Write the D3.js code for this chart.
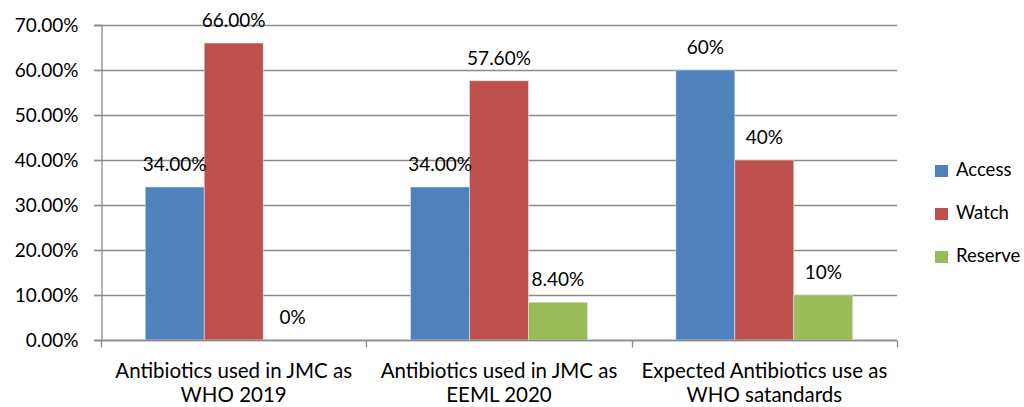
<!DOCTYPE html>
<html>
<head>
<meta charset="utf-8">
<script src="https://cdn.jsdelivr.net/npm/d3@7"></script>
<style>
    body { margin: 0; background: #fff; }
    text { font-family: Lato, "Open Sans", sans-serif; fill: #000; }
</style>
</head>
<body>
<svg id="chart"></svg>
<script>
const categories = [
    ["Antibiotics used in JMC as", "WHO 2019"],
    ["Antibiotics used in JMC as", "EEML 2020"],
    ["Expected Antibiotics use as", "WHO satandards"]
];
const seriesNames = ["Access", "Watch", "Reserve"];
const access = [34, 34, 60];
const watch = [66, 57.6, 40];
const reserve = [0, 8.4, 10];
const labels = [
    ["34.00%", "66.00%", "0%"],
    ["34.00%", "57.60%", "8.40%"],
    ["60%", "40%", "10%"]
];
const yTicks = [0, 10, 20, 30, 40, 50, 60, 70];
const colors = ["#4F81BD", "#C0504D", "#9BBB59"];

const width = 1024, height = 407;
const margin = { top: 25, right: 127, bottom: 67, left: 101 };

const svg = d3.select("#chart")
    .attr("width", width)
    .attr("height", height);

const x0 = d3.scaleBand()
    .domain(d3.range(categories.length))
    .range([margin.left, width - margin.right])
    .padding(0);

const x1 = d3.scaleBand()
    .domain(d3.range(seriesNames.length))
    .range([x0.bandwidth() / 6, x0.bandwidth() * 5 / 6])
    .padding(0);

const y = d3.scaleLinear()
    .domain([0, 70])
    .range([height - margin.bottom, margin.top]);

// gridlines
svg.append("g")
    .selectAll("line")
    .data(yTicks)
    .join("line")
    .attr("x1", margin.left - 7)
    .attr("x2", width - margin.right)
    .attr("y1", d => Math.round(y(d)) + 0.5)
    .attr("y2", d => Math.round(y(d)) + 0.5)
    .attr("stroke", "#8c8c8c")
    .attr("stroke-width", 1.3);

// y axis
const yAxis = svg.append("g")
    .attr("transform", `translate(${margin.left + 0.5},0)`)
    .call(d3.axisLeft(y).tickValues(yTicks).tickFormat(d => d.toFixed(2) + "%").tickSize(7).tickPadding(16));
yAxis.select(".domain").attr("stroke", "#8c8c8c").attr("stroke-width", 1.3);
yAxis.selectAll(".tick line").attr("stroke", "#8c8c8c").attr("stroke-width", 1.3);
yAxis.selectAll(".tick text")
    .attr("font-size", 19)
    .attr("font-family", "Lato, sans-serif")
    .attr("fill", "#000");

// bars
const data = categories.map((c, i) => [access[i], watch[i], reserve[i]]);

const groups = svg.append("g")
    .selectAll("g")
    .data(data)
    .join("g")
    .attr("transform", (d, i) => `translate(${x0(i)},0)`);

groups.selectAll("rect")
    .data(d => d)
    .join("rect")
    .attr("x", (d, j) => x1(j))
    .attr("y", d => y(d))
    .attr("width", x1.bandwidth())
    .attr("height", d => y(0) - y(d))
    .attr("fill", (d, j) => colors[j])
    .attr("stroke", "#dbe4f0")
    .attr("stroke-width", d => d > 0 ? 0.6 : 0);

groups.selectAll("text")
    .data((d, i) => d.map((v, j) => ({ v, label: labels[i][j] })))
    .join("text")
    .attr("x", (d, j) => x1(j) + x1.bandwidth() / 2)
    .attr("y", d => y(d.v) - 16)
    .attr("text-anchor", "middle")
    .attr("font-size", 19)
    .text(d => d.label);

// x axis
const baseY = Math.round(y(0)) + 0.5;
svg.append("line")
    .attr("x1", margin.left)
    .attr("x2", width - margin.right)
    .attr("y1", baseY)
    .attr("y2", baseY)
    .attr("stroke", "#8c8c8c")
    .attr("stroke-width", 1.3);

svg.append("g")
    .selectAll("line")
    .data(d3.range(categories.length + 1))
    .join("line")
    .attr("x1", i => Math.round(margin.left + i * x0.bandwidth()) + 0.5)
    .attr("x2", i => Math.round(margin.left + i * x0.bandwidth()) + 0.5)
    .attr("y1", baseY)
    .attr("y2", baseY + 7)
    .attr("stroke", "#8c8c8c")
    .attr("stroke-width", 1.3);

const catLabels = svg.append("g")
    .selectAll("text")
    .data(categories)
    .join("text")
    .attr("text-anchor", "middle")
    .attr("font-size", 20.5)
    .attr("transform", (d, i) => `translate(${x0(i) + x0.bandwidth() / 2},0)`);

catLabels.selectAll("tspan")
    .data(d => d)
    .join("tspan")
    .attr("x", 0)
    .attr("y", (d, k) => 378 + k * 24)
    .text(d => d);

// legend
const legend = svg.append("g")
    .selectAll("g")
    .data(seriesNames)
    .join("g")
    .attr("transform", (d, i) => `translate(935,${165 + i * 43})`);

legend.append("rect")
    .attr("width", 13)
    .attr("height", 12)
    .attr("fill", (d, i) => colors[i]);

legend.append("text")
    .attr("x", 21)
    .attr("y", 11)
    .attr("font-size", 18.5)
    .text(d => d);
</script>
</body>
</html>
